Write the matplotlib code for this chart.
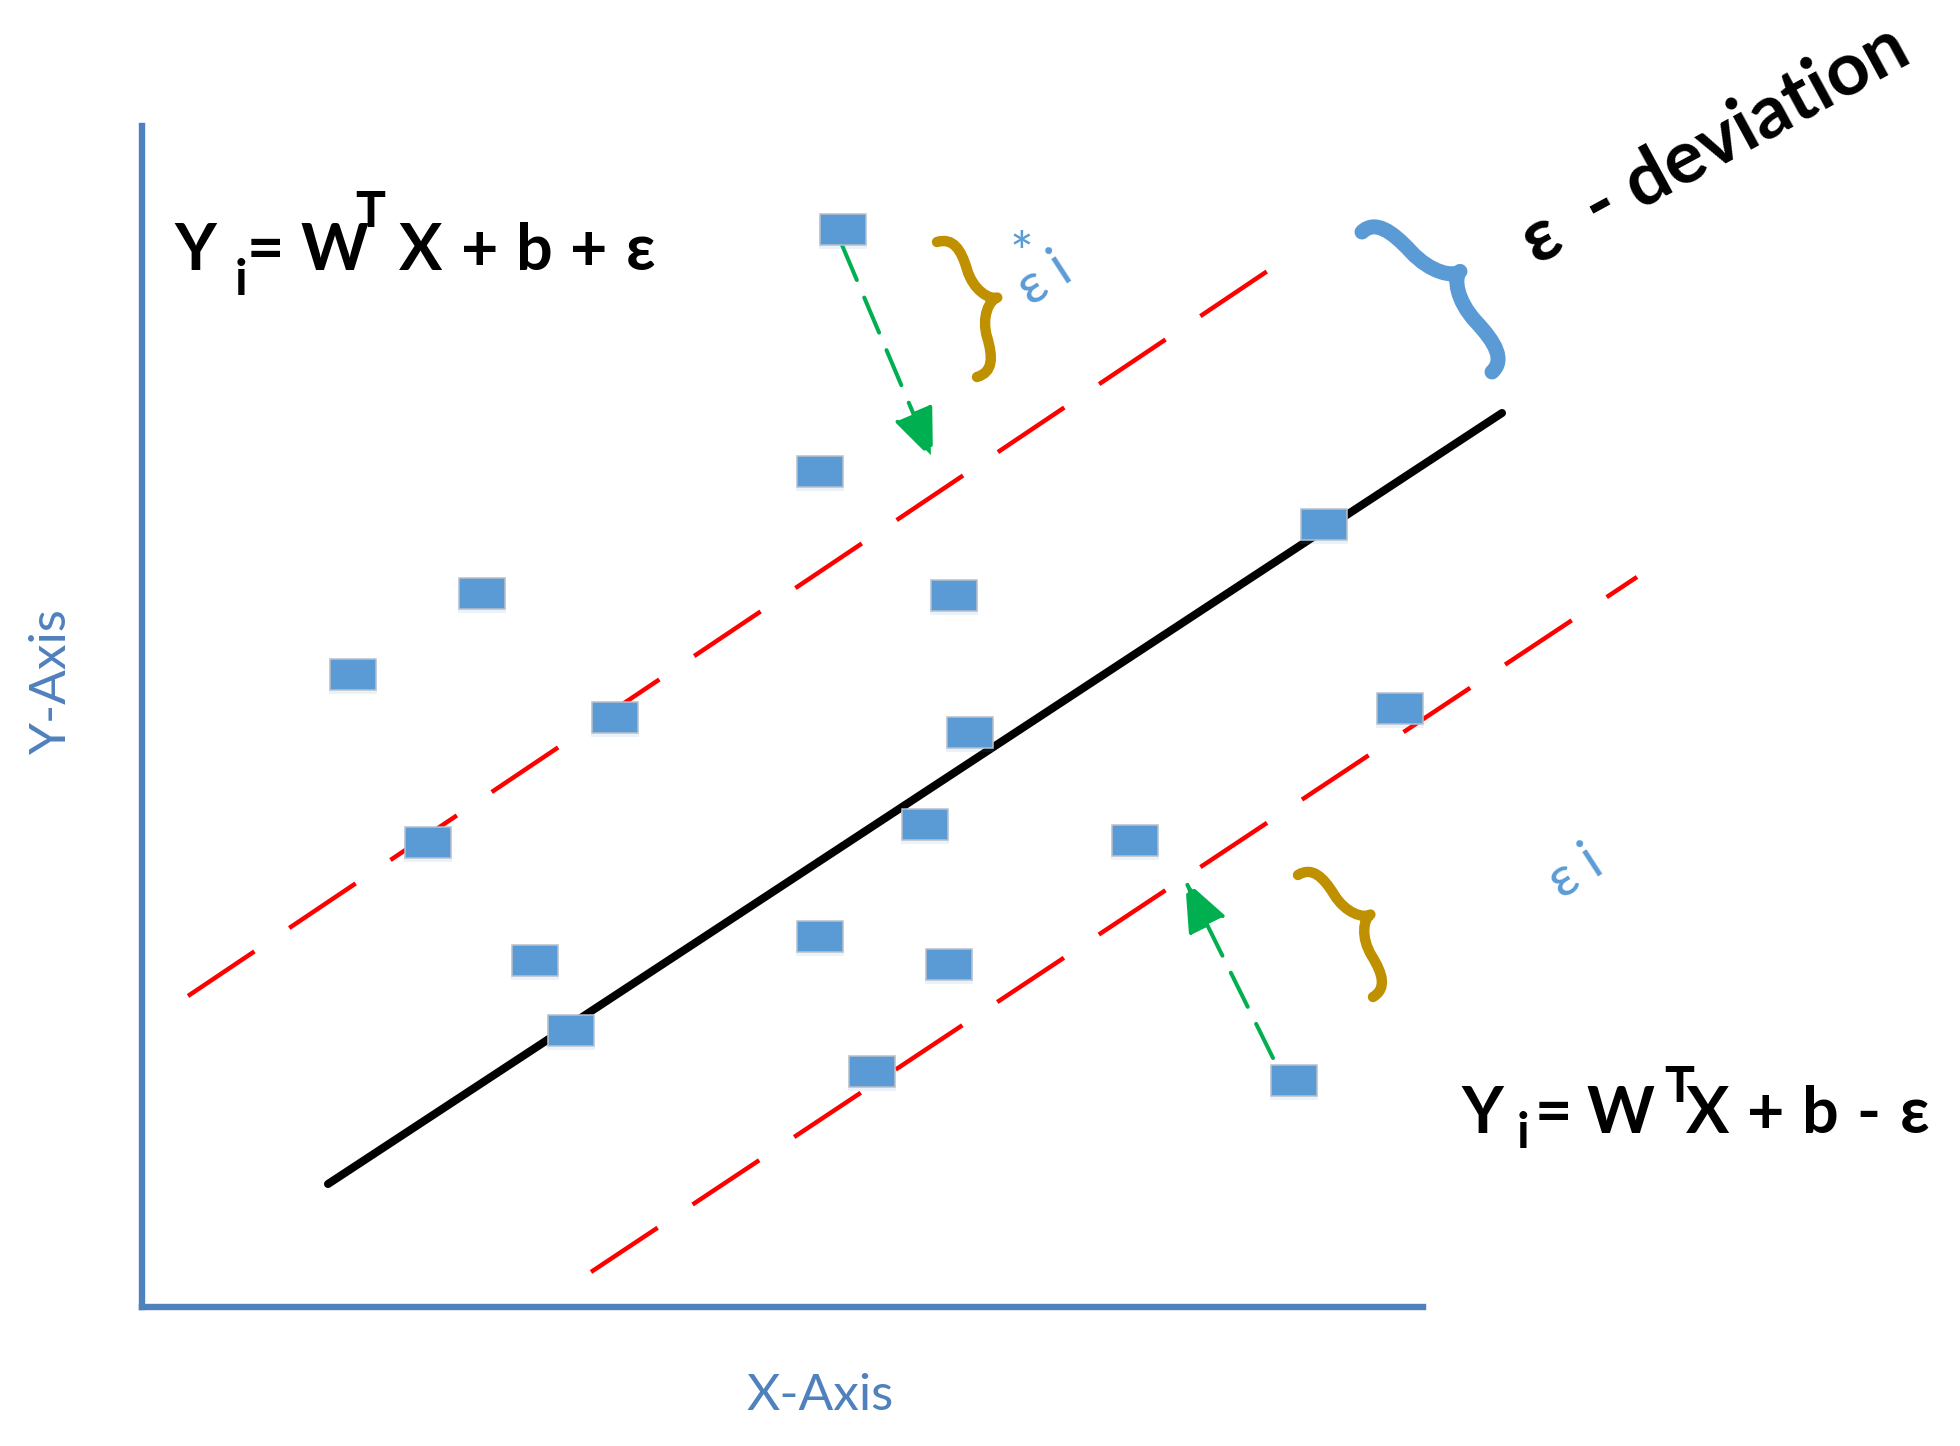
"""Epsilon-insensitive tube sketch for support vector regression."""
import matplotlib
matplotlib.use("Agg")
import numpy as np
import matplotlib.pyplot as plt
from matplotlib.patches import Rectangle, PathPatch
from matplotlib.path import Path

plt.rcParams["lines.scale_dashes"] = False
FONT = ["Lato", "Open Sans", "DejaVu Sans"]

BLUE = "#5b9bd5"
AXIS_BLUE = "#4f81bd"
RED = "#ff0000"
GREEN = "#00b050"
GOLD = "#bf9000"

# sample points, in axis pixel units (origin at the corner of the axes)
point_x = [701, 678, 340, 812, 211, 473, 828, 1182, 1258,
           286, 783, 993, 393, 678, 807, 429, 730, 1152]
point_y = [1078, 836, 714, 712, 633, 590, 575, 783, 599,
           465, 483, 467, 347, 371, 343, 277, 236, 227]

# fitted line and the two epsilon boundaries
fit_x = [186, 1360]
fit_y = [123, 894]
upper_x = [46, 1133]
upper_y = [311, 1041]
lower_x = [449, 1495]
lower_y = [35, 730]

# slack arrows, tail -> head
slack_tail = [(700, 1062), (1131, 249)]
slack_head = [(791, 847), (1043, 427)]

# braces: start, end, depth of the tip
brace_start = [(795, 1065), (1156, 432), (1220, 1075)]
brace_end = [(835, 930), (1231, 310), (1350, 935)]
brace_depth = [42, 41, 45]
brace_color = [GOLD, GOLD, BLUE]
brace_lw = [7.5, 7.5, 10.8]

# equation tokens: text, x centre, baseline, small?
eq_upper = [("Y", 53, 1037, False), ("i", 99, 1012, True),
            ("=", 123, 1037, False), ("W", 192, 1037, False),
            ("T", 228, 1080, True), ("X", 279, 1037, False),
            ("+", 338, 1037, False), ("b", 392, 1037, False),
            ("+", 447, 1037, False), ("ε", 498, 1037, False)]
eq_lower = [("Y", 1340, 174, False), ("i", 1381, 159, True),
            ("=", 1411, 174, False), ("W", 1478, 174, False),
            ("T", 1537, 205, True), ("X", 1566, 174, False),
            ("+", 1624, 174, False), ("b", 1678, 174, False),
            ("-", 1726, 174, False), ("ε", 1772, 174, False)]


def brace_path(p0, p1, depth):
    p0 = np.asarray(p0, float)
    p1 = np.asarray(p1, float)
    L = np.linalg.norm(p1 - p0)
    eu = (p1 - p0) / L
    ev = np.array([-eu[1], eu[0]])
    if ev[0] < 0:
        ev = -ev
    # normalised brace shape (u along, v towards the tip)
    uv = [(0, 0), (0, 0.4), (0.1, 0.5), (0.25, 0.5),
          (0.4, 0.5), (0.5, 0.8), (0.5, 1.0),
          (0.5, 0.8), (0.6, 0.5), (0.75, 0.5),
          (0.9, 0.5), (1.0, 0.4), (1.0, 0.0)]
    verts = [p0 + u * L * eu + v * depth * ev for u, v in uv]
    codes = [Path.MOVETO] + [Path.CURVE4] * 12
    return Path(verts, codes)


fig = plt.figure(figsize=(19.6, 14.46), dpi=100)
ax = fig.add_axes([142 / 1960, 139 / 1446, 1281 / 1960, 1181 / 1446])
ax.set_xlim(0, 1281)
ax.set_ylim(0, 1181)
for side in ("top", "right"):
    ax.spines[side].set_visible(False)
for side in ("left", "bottom"):
    ax.spines[side].set_color(AXIS_BLUE)
    ax.spines[side].set_linewidth(4.6)
    ax.spines[side].set_capstyle("projecting")
ax.set_xticks([])
ax.set_yticks([])

ax.plot(fit_x, fit_y, color="black", lw=5.8, solid_capstyle="round",
        clip_on=False, zorder=2)
for xs, ys in ((upper_x, upper_y), (lower_x, lower_y)):
    ax.plot(xs, ys, color=RED, lw=3.2, linestyle=(0, (57.6, 30.2)),
            clip_on=False, zorder=2)

for tail, head in zip(slack_tail, slack_head):
    ax.annotate("", xy=head, xytext=tail,
                arrowprops=dict(arrowstyle="-|>,head_length=32,head_width=13",
                                mutation_scale=1, color=GREEN, lw=2.9,
                                linestyle=(0, (27.4, 13.7)),
                                shrinkA=0, shrinkB=0), zorder=3)

for p0, p1, d, c, lw in zip(brace_start, brace_end, brace_depth,
                            brace_color, brace_lw):
    ax.add_patch(PathPatch(brace_path(p0, p1, d), fill=False, edgecolor=c,
                           lw=lw, capstyle="round", joinstyle="round",
                           clip_on=False, zorder=3))

for x, y in zip(point_x, point_y):
    ax.add_patch(Rectangle((x - 24, y - 20), 48, 33, fc=BLUE, alpha=0.12,
                           lw=0, zorder=4, clip_on=False))
    ax.add_patch(Rectangle((x - 23, y - 15.5), 46, 31, fc=BLUE,
                           ec="#b8c0ca", lw=1.1, zorder=5, clip_on=False))

for tokens in (eq_upper, eq_lower):
    for s, x, y, sub in tokens:
        ax.text(x, y, s, family=FONT, fontweight="bold",
                fontsize=36 if sub else 46.5, color="black",
                ha="center", va="baseline")

ax.text(1395, 1041, "ε  - deviation", family=FONT, fontweight="bold",
        fontsize=54, rotation=28.5, rotation_mode="anchor", ha="left",
        va="baseline")

lab = dict(family=FONT, color=BLUE, rotation=33, rotation_mode="anchor",
           ha="center", va="center")
ax.text(903, 1027, "ε i", fontsize=40, **lab)
ax.text(879, 1050, "*", family=FONT, color=BLUE, fontsize=40,
        ha="center", va="center")
ax.text(1434, 434, "ε i", fontsize=40, **lab)

ax.text(678, -103, "X-Axis", family=FONT, fontsize=37, color=AXIS_BLUE,
        ha="center", va="baseline")
ax.text(-90, 626, "Y-Axis", family=FONT, fontsize=37, color=AXIS_BLUE,
        rotation=90, ha="center", va="center")

fig.savefig("out.png", dpi=100)
